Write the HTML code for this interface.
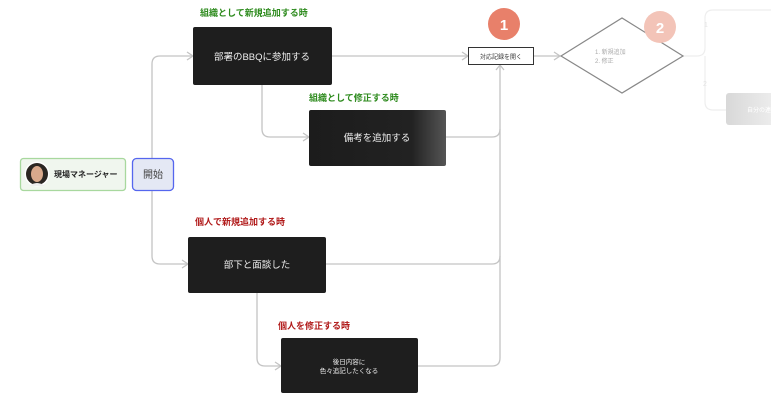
<!DOCTYPE html>
<html><head><meta charset="utf-8"><style>
html,body{margin:0;padding:0;background:#fff;}
svg{display:block;font-family:"Liberation Sans","Noto Sans CJK JP",sans-serif;}
</style></head><body>
<svg width="771" height="405" viewBox="0 0 771 405" xmlns="http://www.w3.org/2000/svg">
<defs>
<linearGradient id="g1" x1="0" x2="1"><stop offset="0" stop-color="#1c1c1c"/><stop offset="0.75" stop-color="#222"/><stop offset="1" stop-color="#555"/></linearGradient>
<linearGradient id="g2" x1="0" x2="1"><stop offset="0" stop-color="#d8d8d8"/><stop offset="1" stop-color="#eee"/></linearGradient>
</defs>
<g fill="none" stroke="#c4c4c4" stroke-width="1.3">
<path d="M152 158 V64 Q152 56 160 56 H193"/>
<path d="M152 190 V256 Q152 264 160 264 H188"/>
<path d="M262 85 V129 Q262 137 270 137 H309"/>
<path d="M257 293 V358 Q257 366 265 366 H281"/>
<path d="M332 56 H468"/>
<path d="M446 137 H492 Q500 137 500 129"/>
<path d="M326 264 H492 Q500 264 500 256"/>
<path d="M418 366 H492 Q500 366 500 358 V65"/>
<path d="M533 56 H560"/>
<path d="M187 52 L193 56 L187 60 M182 260 L188 264 L182 268 M303 133 L309 137 L303 141 M275 362 L281 366 L275 370 M462 52 L468 56 L462 60 M554 52 L560 56 L554 60 M496 70 L500 65 L504 70"/>
</g>
<g fill="none" stroke="#eeeeee" stroke-width="1.2">
<path d="M683 56 H697 Q705 56 705 48 V18 Q705 10 713 10 H771"/>
<path d="M705 56 V102 Q705 110 713 110 H726"/>
</g>
<text x="704" y="27" font-size="7" fill="#e4e4e4">1</text>
<text x="703" y="86" font-size="7" fill="#e4e4e4">2</text>
<rect x="726" y="93" width="50" height="32" rx="3" fill="url(#g2)"/>
<text x="747" y="112" font-size="6" fill="#fff">自分の連</text>
<!-- manager -->
<rect x="20.5" y="158.5" width="105" height="32" rx="3" fill="#f0f6ee" stroke="#a8d89e" stroke-width="1.3"/>
<circle cx="37" cy="174" r="12.5" fill="#fff"/>
<circle cx="37" cy="174" r="11" fill="#2b2622"/>
<ellipse cx="37" cy="174" rx="6" ry="8" fill="#d9a98c"/>
<path d="M29 186 Q37 180 45 186 Z" fill="#eee"/>
<text x="54" y="177" font-size="8" font-weight="bold" fill="#222">現場マネージャー</text>
<rect x="132.5" y="158.5" width="41" height="32" rx="4" fill="#e4e8f4" stroke="#5566ee" stroke-width="1.3"/>
<text x="153" y="178" font-size="10" fill="#444" text-anchor="middle">開始</text>
<!-- boxes -->
<text x="200" y="16" font-size="9" font-weight="bold" fill="#2e8b1e">組織として新規追加する時</text>
<rect x="193" y="27" width="139" height="58" rx="2" fill="#1e1e1e"/>
<text x="262" y="60" font-size="9.5" fill="#eee" text-anchor="middle">部署のBBQに参加する</text>
<text x="309" y="101" font-size="9" font-weight="bold" fill="#2e8b1e">組織として修正する時</text>
<rect x="309" y="110" width="137" height="56" rx="2" fill="url(#g1)"/>
<text x="377" y="141" font-size="9.5" fill="#eee" text-anchor="middle">備考を追加する</text>
<text x="195" y="225" font-size="9" font-weight="bold" fill="#b01818">個人で新規追加する時</text>
<rect x="188" y="237" width="138" height="56" rx="2" fill="#1e1e1e"/>
<text x="257" y="268" font-size="9.5" fill="#eee" text-anchor="middle">部下と面談した</text>
<text x="278" y="329" font-size="9" font-weight="bold" fill="#b01818">個人を修正する時</text>
<rect x="281" y="338" width="137" height="55" rx="2" fill="#1e1e1e"/>
<text x="349" y="364" font-size="6.5" fill="#eee" text-anchor="middle">後日内容に</text>
<text x="349" y="373" font-size="6.5" fill="#eee" text-anchor="middle">色々追記したくなる</text>
<!-- record -->
<rect x="468.5" y="47.5" width="65" height="17" fill="#fff" stroke="#333" stroke-width="1"/>
<text x="501" y="59" font-size="6" fill="#333" text-anchor="middle">対応記録を開く</text>
<path d="M561 56 L622 18 L683 56 L622 93 Z" fill="#fff" stroke="#888" stroke-width="1.2"/>
<text x="595" y="54" font-size="6" fill="#aaa">1. 新規追加</text>
<text x="595" y="63" font-size="6" fill="#aaa">2. 修正</text>
<circle cx="504" cy="24" r="16" fill="#e8806a"/>
<text x="504" y="30" font-size="15" font-weight="bold" fill="#fff" text-anchor="middle">1</text>
<circle cx="660" cy="27" r="16" fill="#f3c4b8"/>
<text x="660" y="33" font-size="15" font-weight="bold" fill="#fff" text-anchor="middle">2</text>
</svg>
</body></html>
